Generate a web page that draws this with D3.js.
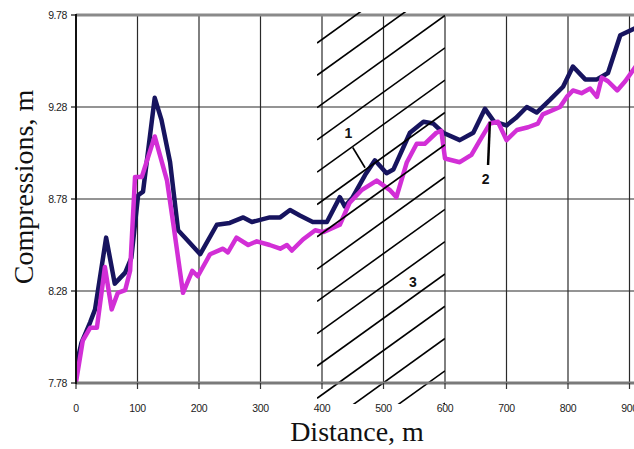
<!DOCTYPE html>
<html>
<head>
<meta charset="utf-8">
<script src="https://cdn.jsdelivr.net/npm/d3@7"></script>
<style>
  html, body { margin: 0; padding: 0; background: #fff; }
  svg { display: block; }
</style>
</head>
<body>
<svg id="chart" width="634" height="449"></svg>
<script>
// ---- data ----
const xTicks = [0, 100, 200, 300, 400, 500, 600, 700, 800, 900];
const yTicks = [7.78, 8.28, 8.78, 9.28, 9.78];
const yTickLabels = ["7.78", "8.28", "8.78", "9.28", "9.78"];

const curve1Dist = [0, 9, 23, 31, 49, 63, 80, 90, 101, 109, 128, 139, 153, 166, 180, 202, 229, 250, 272, 286, 315, 332, 348, 364, 385, 408, 429, 437, 450, 470, 486, 505, 516, 543, 565, 581, 597, 624, 646, 665, 680, 700, 715, 733, 749, 771, 792, 808, 828, 847, 865, 885, 910];
const curve1Vals = [7.87, 8.00, 8.11, 8.18, 8.57, 8.32, 8.38, 8.46, 8.80, 8.82, 9.33, 9.21, 8.98, 8.61, 8.56, 8.48, 8.64, 8.65, 8.68, 8.655, 8.68, 8.68, 8.72, 8.69, 8.655, 8.655, 8.79, 8.74, 8.79, 8.91, 8.99, 8.92, 8.94, 9.14, 9.20, 9.19, 9.14, 9.10, 9.14, 9.27, 9.20, 9.18, 9.22, 9.28, 9.25, 9.32, 9.39, 9.50, 9.43, 9.43, 9.465, 9.67, 9.71];

const curve2Dist = [0, 11, 23, 34, 47, 58, 68, 80, 88, 96, 107, 128, 148, 158, 174, 189, 198, 213, 218, 239, 247, 261, 280, 294, 315, 332, 343, 351, 369, 389, 402, 429, 445, 465, 489, 510, 521, 538, 554, 567, 586, 594, 600, 624, 643, 657, 673, 686, 700, 717, 735, 751, 759, 787, 798, 808, 822, 836, 847, 855, 865, 880, 893, 910];
const curve2Vals = [7.785, 8.01, 8.08, 8.08, 8.41, 8.18, 8.27, 8.285, 8.39, 8.90, 8.90, 9.12, 8.88, 8.65, 8.27, 8.39, 8.36, 8.45, 8.48, 8.51, 8.49, 8.57, 8.53, 8.55, 8.53, 8.51, 8.53, 8.50, 8.56, 8.61, 8.60, 8.64, 8.76, 8.83, 8.88, 8.83, 8.79, 8.98, 9.08, 9.08, 9.14, 9.15, 9.00, 8.98, 9.02, 9.10, 9.19, 9.20, 9.10, 9.155, 9.17, 9.19, 9.24, 9.28, 9.335, 9.37, 9.355, 9.38, 9.335, 9.44, 9.42, 9.37, 9.42, 9.50];

const hatchZone = [392, 600];   // distance range of zone 3
const annotations = [
  { text: "1", d: 443, v: 9.11, from: [450, 9.06], to: [470, 8.95] },
  { text: "2", d: 666, v: 8.86, from: [673, 9.20], to: [670, 8.965] },
  { text: "3", d: 548, v: 8.30 }
];

// ---- layout ----
const svg = d3.select("#chart");
const padL = 76, padT = 15, padB = 383, padR = 634;
const x = d3.scaleLinear().domain([0, 900]).range([padL, 629.5]);
const y = d3.scaleLinear().domain([7.78, 9.78]).range([padB, padT]);

const defs = svg.append("defs");
defs.append("clipPath").attr("id", "plotclip")
  .append("rect").attr("x", padL).attr("y", 0).attr("width", padR - padL).attr("height", padB + 2);

// grid
const grid = svg.append("g");
grid.selectAll("line.v").data(xTicks.filter(d => d > 0)).join("line")
  .attr("x1", d => x(d)).attr("x2", d => x(d)).attr("y1", padT).attr("y2", padB)
  .attr("stroke", "#2a2a2a").attr("stroke-width", 1.2);
grid.selectAll("line.h").data(yTicks.filter(d => d > 7.78 && d < 9.78)).join("line")
  .attr("x1", padL).attr("x2", padR).attr("y1", d => y(d)).attr("y2", d => y(d))
  .attr("stroke", "#2a2a2a").attr("stroke-width", 1.2);

// top border
svg.append("line").attr("x1", padL).attr("x2", padR).attr("y1", y(9.78)).attr("y2", y(9.78))
  .attr("stroke", "#8a8a8a").attr("stroke-width", 3);

// curves
const line = d3.line().x(d => x(d[0])).y(d => y(d[1]));
const g = svg.append("g").attr("clip-path", "url(#plotclip)");
g.append("path").datum(d3.zip(curve1Dist, curve1Vals)).attr("d", line)
  .attr("fill", "none").attr("stroke", "#17145f").attr("stroke-width", 4.5)
  .attr("stroke-linejoin", "round").attr("stroke-linecap", "round");
g.append("path").datum(d3.zip(curve2Dist, curve2Vals)).attr("d", line)
  .attr("fill", "none").attr("stroke", "#d22fd6").attr("stroke-width", 4.5)
  .attr("stroke-linejoin", "round").attr("stroke-linecap", "round");

// hatching (zone 3)
const hx0 = x(hatchZone[0]), hx1 = x(hatchZone[1]);
const hy0 = 12, hy1 = 404, slope = 0.72, spacing = 32.3;
defs.append("clipPath").attr("id", "hatchclip").append("rect")
  .attr("x", hx0).attr("y", hy0).attr("width", hx1 - hx0).attr("height", hy1 - hy0);
const hatch = svg.append("g").attr("clip-path", "url(#hatchclip)");
const starts = d3.range(-4, 16).map(k => 43 + spacing * k);
hatch.selectAll("line").data(starts).join("line")
  .attr("x1", hx0).attr("y1", d => d)
  .attr("x2", hx1).attr("y2", d => d - slope * (hx1 - hx0))
  .attr("stroke", "#000").attr("stroke-width", 1.6);

// axes
svg.append("line").attr("x1", padL).attr("x2", padR).attr("y1", padB).attr("y2", padB)
  .attr("stroke", "#7a7a7a").attr("stroke-width", 3);
svg.append("g").selectAll("line").data(xTicks).join("line")
  .attr("x1", d => x(d)).attr("x2", d => x(d)).attr("y1", padB).attr("y2", padB + 6)
  .attr("stroke", "#333").attr("stroke-width", 1.2);
svg.append("line").attr("x1", padL).attr("x2", padL).attr("y1", padT - 1).attr("y2", padB + 1)
  .attr("stroke", "#111").attr("stroke-width", 2);
svg.append("g").selectAll("line").data(yTicks).join("line")
  .attr("x1", padL - 5).attr("x2", padL).attr("y1", d => y(d)).attr("y2", d => y(d))
  .attr("stroke", "#111").attr("stroke-width", 1.2);

// tick labels
svg.append("g").selectAll("text").data(yTicks).join("text")
  .attr("x", padL - 9).attr("y", d => y(d) + 4)
  .attr("text-anchor", "end").attr("font-family", "Liberation Sans, Arial, sans-serif")
  .attr("font-size", 10.5).attr("fill", "#222").attr("letter-spacing", -0.4)
  .text((d, i) => yTickLabels[i]);
svg.append("g").selectAll("text").data(xTicks).join("text")
  .attr("x", d => x(d)).attr("y", 412)
  .attr("text-anchor", "middle").attr("font-family", "Liberation Sans, Arial, sans-serif")
  .attr("font-size", 10.5).attr("fill", "#222").attr("letter-spacing", -0.4)
  .text(d => d);

// axis titles
svg.append("text").attr("x", 357).attr("y", 441).attr("text-anchor", "middle")
  .attr("font-family", "Liberation Serif, Times New Roman, serif").attr("font-size", 28)
  .attr("fill", "#111").text("Distance, m");
svg.append("text").attr("transform", "translate(33,187) rotate(-90)").attr("text-anchor", "middle")
  .attr("font-family", "Liberation Serif, Times New Roman, serif").attr("font-size", 28)
  .attr("fill", "#111").text("Compressions, m");

// annotations
annotations.forEach(a => {
  if (a.from) {
    svg.append("line").attr("x1", x(a.from[0])).attr("y1", y(a.from[1]))
      .attr("x2", x(a.to[0])).attr("y2", y(a.to[1]))
      .attr("stroke", "#000").attr("stroke-width", a.text === "2" ? 2.5 : 1.6);
  }
  svg.append("text").attr("x", x(a.d)).attr("y", y(a.v)).attr("text-anchor", "middle")
    .attr("font-family", "Liberation Sans, Arial, sans-serif").attr("font-size", 14)
    .attr("font-weight", "bold").attr("fill", "#111").text(a.text);
});
</script>
</body>
</html>
